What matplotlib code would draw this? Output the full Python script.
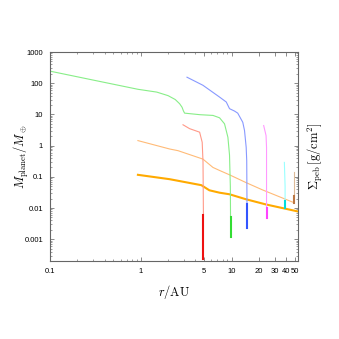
import numpy as np
import matplotlib
matplotlib.use("Agg")
import matplotlib.pyplot as plt
from matplotlib.ticker import FixedLocator, NullFormatter, LogLocator

plt.rcParams['mathtext.fontset'] = 'cm'

## data (r in AU, M in Earth masses)

green_r = [0.1, 0.3, 0.93, 1.5, 2.0, 2.4, 2.68, 2.85, 2.95, 3.04, 4.5, 6.24, 7.38, 8.37, 9.12, 9.5, 9.7, 9.75]
green_m = [244, 126, 64, 52, 40, 30, 22, 17, 13, 11, 9.8, 9.3, 7.8, 5.0, 1.85, 0.5, 0.05, 0.005]
green_core = [0.005, 0.00116]

blue_r = [3.23, 4.84, 7.38, 8.75, 9.5, 10.8, 11.7, 13.3, 13.9, 14.5, 14.7, 14.8]
blue_m = [156, 86, 36, 25, 15.3, 12.8, 11, 5.6, 3.05, 0.88, 0.33, 0.0134]
blue_core = [0.0134, 0.0023]

red_r = [2.92, 3.45, 4.45, 4.75, 4.85, 4.9]
red_m = [4.66, 3.5, 2.7, 1.28, 0.3, 0.0059]
red_core = [0.0059, 0.00023]

pink_r = [22.6, 24.0, 24.3, 24.3]
pink_m = [4.4, 2.1, 0.88, 0.0102]
pink_core = [0.0102, 0.0049]

cyan_r = [38.2, 38.9, 38.9]
cyan_m = [0.29, 0.05, 0.017]
cyan_core = [0.017, 0.0102]

tan_r = [48.3, 48.3]
tan_m = [0.145, 0.024]
tan_core = [0.024, 0.0150]

# pebble surface densities
peb0_r = [0.93, 2.08, 2.57, 4.84, 6.24, 7.38, 9.5, 14.5, 22, 47]
peb0_s = [1.45, 0.78, 0.69, 0.37, 0.2, 0.16, 0.116, 0.065, 0.038, 0.0155]

peb_r = [0.93, 2.08, 4.65, 5.7, 7.38, 9.5, 14.5, 17.1, 24, 53.5]
peb_s = [0.116, 0.084, 0.054, 0.037, 0.031, 0.0276, 0.019, 0.0168, 0.013, 0.0078]

xticks = [0.1, 1, 5, 10, 20, 30, 40, 50]
xtick_labels = ['0.1', '1', '5', '10', '20', '30', '40', '50']
yticks = [0.001, 0.01, 0.1, 1, 10, 100, 1000]
ytick_labels = ['0.001', '0.01', '0.1', '1', '10', '100', '1000']

## plot

fig = plt.figure(figsize=(3.39, 3.39), dpi=100)
ax = fig.add_axes([0.1475, 0.230, 0.7316, 0.6165])
ax.set_xscale('log')
ax.set_yscale('log')
ax.set_xlim(0.1, 54)
ax.set_ylim(2e-4, 1000)

ax.plot(peb0_r, peb0_s, color='#ffbb77', lw=0.8)
ax.plot(peb_r, peb_s, color='#ffaa00', lw=1.5)

tracks = [
    (green_r, green_m, green_core, '#88ee88', '#33dd33'),
    (blue_r, blue_m, blue_core, '#8899ff', '#3355ff'),
    (red_r, red_m, red_core, '#ff9988', '#ee1111'),
    (pink_r, pink_m, pink_core, '#ff99ff', '#ff44ff'),
    (cyan_r, cyan_m, cyan_core, '#99ffff', '#00dddd'),
    (tan_r, tan_m, tan_core, '#ddbb99', '#bb7744'),
]
for r, m, core, light, dark in tracks:
    ax.plot(r, m, color=light, lw=0.8)
    ax.plot([r[-1], r[-1]], core, color=dark, lw=1.5)

tick_font = dict(family=['Liberation Sans Narrow', 'Liberation Sans'], size=5.5)
ax.xaxis.set_major_locator(FixedLocator(xticks))
ax.set_xticklabels(xtick_labels, **tick_font)
ax.xaxis.set_minor_locator(LogLocator(base=10, subs=np.arange(2, 10)))
ax.xaxis.set_minor_formatter(NullFormatter())
ax.yaxis.set_major_locator(FixedLocator(yticks))
ax.set_yticklabels(ytick_labels, **tick_font)
ax.yaxis.set_minor_locator(LogLocator(base=10, subs=np.arange(2, 10)))
ax.yaxis.set_minor_formatter(NullFormatter())

ax.tick_params(which='both', direction='in', top=True, right=True, color='#777777')
ax.tick_params(which='major', length=3, width=0.6, pad=5)
ax.tick_params(which='minor', length=1.5, width=0.5)
for s in ax.spines.values():
    s.set_color('#666666')
    s.set_linewidth(0.8)

ax.set_xlabel(r'$r/\mathrm{AU}$', fontsize=9)
ax.xaxis.set_label_coords(0.5, -0.105)
ax.set_ylabel(r'$M_\mathrm{planet}/M_\oplus$', fontsize=9)
ax.yaxis.set_label_coords(-0.075, 0.5)
fig.text(0.93, 0.538, r'$\Sigma_\mathrm{peb}\,[\mathrm{g/cm}^2]$', fontsize=9,
         rotation=90, ha='center', va='center')

fig.savefig('out.png', dpi=100)
